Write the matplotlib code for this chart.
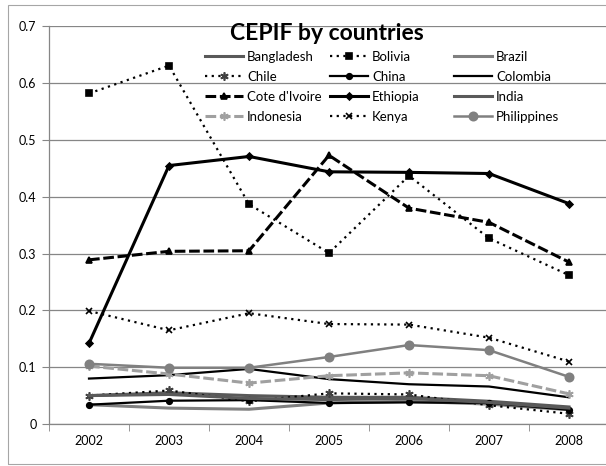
import matplotlib
matplotlib.use("Agg")
import matplotlib.pyplot as plt
from matplotlib.patches import Rectangle
from matplotlib.legend import Legend

plt.rcParams['font.family'] = ['Lato', 'DejaVu Sans']

years = ['2002', '2003', '2004', '2005', '2006', '2007', '2008']
y_ticks = [0, 0.1, 0.2, 0.3, 0.4, 0.5, 0.6, 0.7]

bangladesh = [0.050, 0.055, 0.050, 0.047, 0.047, 0.040, 0.030]
bolivia = [0.582, 0.631, 0.387, 0.301, 0.437, 0.327, 0.262]
brazil = [0.034, 0.028, 0.026, 0.037, 0.040, 0.035, 0.025]
chile = [0.050, 0.059, 0.040, 0.054, 0.052, 0.033, 0.018]
china = [0.034, 0.041, 0.042, 0.037, 0.038, 0.037, 0.025]
colombia = [0.080, 0.086, 0.097, 0.079, 0.070, 0.066, 0.047]
cote_divoire = [0.289, 0.304, 0.305, 0.473, 0.380, 0.355, 0.285]
ethiopia = [0.142, 0.455, 0.471, 0.444, 0.443, 0.441, 0.388]
india = [0.050, 0.052, 0.045, 0.043, 0.045, 0.038, 0.028]
indonesia = [0.102, 0.088, 0.072, 0.085, 0.090, 0.085, 0.053]
kenya = [0.199, 0.165, 0.195, 0.176, 0.175, 0.152, 0.110]
philippines = [0.106, 0.099, 0.099, 0.118, 0.139, 0.130, 0.083]

dots = (0, (1, 2))
dash = (0, (3.5, 1.2))
star = (6, 2, 0)

# name, values, color, linewidth, linestyle, marker, markersize
series = [
    ('Bangladesh', bangladesh, '#595959', 2.2, '-', None, 0),
    ('Bolivia', bolivia, 'black', 1.6, dots, 's', 4),
    ('Brazil', brazil, '#808080', 2.2, '-', None, 0),
    ('Chile', chile, 'black', 1.6, dots, star, 6),
    ('China', china, 'black', 1.6, '-', 'o', 4),
    ('Colombia', colombia, 'black', 1.6, '-', None, 0),
    ("Cote d'Ivoire", cote_divoire, 'black', 2.2, dash, '^', 5),
    ('Ethiopia', ethiopia, 'black', 2.2, '-', 'D', 3.5),
    ('India', india, '#5a5a5a', 2.2, '-', None, 0),
    ('Indonesia', indonesia, '#a0a0a0', 2.2, dash, star, 6),
    ('Kenya', kenya, 'black', 1.6, dots, 'x', 5),
    ('Philippines', philippines, '#808080', 1.8, '-', 'o', 6),
]

fig = plt.figure(figsize=(6.06, 4.66), dpi=100)
fig.patches.append(Rectangle((8 / 606, 2 / 466), 1.2, 459 / 466, transform=fig.transFigure,
                             fill=False, edgecolor='#a6a6a6', linewidth=0.8))
ax = fig.add_axes([49 / 606, 42 / 466, 560 / 606, 397.6 / 466])

x = list(range(len(years)))
handles = []
for name, vals, col, lw, ls, mk, ms in series:
    mkcol = col
    if name == 'Chile':
        mkcol = '#404040'
    h, = ax.plot(x, vals, color=col, linewidth=lw, linestyle=ls, marker=mk, markersize=ms,
                 markerfacecolor=mkcol, markeredgecolor=mkcol, markeredgewidth=1.2,
                 label=name)
    handles.append(h)

ax.set_xlim(-0.5, 6.5)
ax.set_ylim(0, 0.7)
ax.set_yticks(y_ticks)
ax.set_yticklabels(['0' if t == 0 else '%g' % t for t in y_ticks], fontsize=9)
ax.set_xticks(x)
ax.set_xticklabels(years, fontsize=9)
ax.set_xticks([i - 0.5 for i in range(8)], minor=True)
ax.tick_params(axis='x', which='major', length=0, pad=8)
ax.tick_params(axis='x', which='minor', length=5, color='#868686', direction='out')
ax.tick_params(axis='y', length=5, color='#868686', direction='out', pad=4)
ax.grid(axis='y', color='#868686', linewidth=0.9)
ax.set_axisbelow(True)
for s in ['top', 'right']:
    ax.spines[s].set_visible(False)
for s in ['left', 'bottom']:
    ax.spines[s].set_color('#868686')
    ax.spines[s].set_linewidth(0.9)

ax.text(327 / 606, 1 - 33 / 466, 'CEPIF by countries', transform=fig.transFigure,
        ha='center', va='center', fontsize=16.5, fontweight='bold')

# legend laid out row-wise in three equal columns, like the spreadsheet
col_x = [205, 330, 454]
for c in range(3):
    hs = handles[c::3]
    leg = Legend(ax, hs, [h.get_label() for h in hs], loc='upper left',
                 bbox_to_anchor=(col_x[c] / 606, 1 - 51 / 466),
                 bbox_transform=fig.transFigure, frameon=False, fontsize=9.5,
                 handlelength=2.9, handletextpad=0.3,
                 labelspacing=0.6, borderpad=0, borderaxespad=0)
    ax.add_artist(leg)

fig.savefig('out.png', dpi=100)
